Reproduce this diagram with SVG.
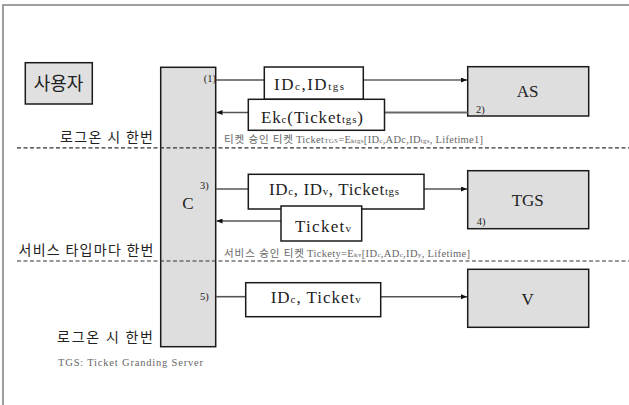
<svg xmlns="http://www.w3.org/2000/svg" width="629" height="405" viewBox="0 0 629 405">
<defs>
<style>
.frame{fill:none;stroke:#808080;stroke-width:1.5}
.node{fill:#dedede;stroke:#1a1a1a;stroke-width:1.5}
.msg{fill:#ffffff;stroke:#1a1a1a;stroke-width:1.5}
.ln{fill:none;stroke:#555;stroke-width:1.6}
.dash{fill:none;stroke:#333;stroke-width:1.2;stroke-dasharray:4 2.5}
text{fill:#222}
.big{font-size:17px}
.sub{font-size:11px}
.num{font-size:10.5px}
.note{font-size:10.5px;fill:#666}
.tiny{font-size:7px}
</style>
<marker id="arr" viewBox="0 0 6 5" refX="6" refY="2.5" markerWidth="6" markerHeight="5" markerUnits="userSpaceOnUse" orient="auto">
<path d="M0,0 L6,2.5 L0,5 z" fill="#111"/>
</marker>
</defs>
<rect width="629" height="405" fill="#ffffff"/>
<path class="frame" d="M3,405 V5 H629"/>

<g id="user">
<rect class="node" x="25.3" y="62.7" width="67" height="41.3" style="fill:#e0e0e0"/>
<text font-family="'Noto Sans CJK KR', sans-serif" x="58.5" y="90" font-size="18" text-anchor="middle">사용자</text>
</g>

<g id="C">
<rect class="node" x="160.7" y="67.3" width="55" height="279.4"/>
<text font-family="'Liberation Serif', 'DejaVu Serif', serif" class="big" x="188" y="209" text-anchor="middle">C</text>
</g>

<g id="AS">
<rect class="node" x="467.7" y="66.7" width="121" height="49.3"/>
<text font-family="'Liberation Serif', 'DejaVu Serif', serif" class="big" x="527.7" y="97" text-anchor="middle">AS</text>
<text font-family="'Liberation Serif', 'DejaVu Serif', serif" class="num" x="476" y="113">2)</text>
</g>

<g id="TGS">
<rect class="node" x="467.7" y="170.7" width="121" height="58"/>
<text font-family="'Liberation Serif', 'DejaVu Serif', serif" class="big" x="527.7" y="206" text-anchor="middle">TGS</text>
<text font-family="'Liberation Serif', 'DejaVu Serif', serif" class="num" x="476.7" y="225">4)</text>
</g>

<g id="V">
<rect class="node" x="467.7" y="269.3" width="121" height="58"/>
<text font-family="'Liberation Serif', 'DejaVu Serif', serif" class="big" x="527.7" y="305" text-anchor="middle">V</text>
</g>

<g id="connectors">
<path class="ln" d="M216,80 H264.3"/>
<path class="ln" d="M363.3,80 H467" style="stroke:#111;stroke-width:1.1" marker-end="url(#arr)"/>
<path class="ln" d="M467.7,112.5 H384.5" style="stroke:#666;stroke-width:2"/>
<path class="ln" d="M248.3,112.5 H216.5" marker-end="url(#arr)"/>
<path class="ln" d="M216,189 H248.3"/>
<path class="ln" d="M424,189 H467" marker-end="url(#arr)"/>
<path class="ln" d="M281,221 H216.5" marker-end="url(#arr)"/>
<path class="ln" d="M216,296.7 H245.7"/>
<path class="ln" d="M380.7,296.7 H467" marker-end="url(#arr)"/>
</g>

<g id="msg1">
<rect class="msg" x="264.3" y="67" width="99" height="32.3"/>
<text font-family="'Liberation Serif', 'DejaVu Serif', serif" class="big" x="274" y="90" textLength="70" lengthAdjust="spacing">ID<tspan class="sub">c</tspan>,ID<tspan class="sub">tgs</tspan></text>
<text font-family="'Liberation Serif', 'DejaVu Serif', serif" class="num" x="216" y="81.5" text-anchor="end">(1)</text>
</g>

<g id="msg2">
<rect class="msg" x="248.3" y="99.3" width="136.2" height="31"/>
<text font-family="'Liberation Serif', 'DejaVu Serif', serif" class="big" x="261" y="123" textLength="102" lengthAdjust="spacing">Ek<tspan class="sub">c</tspan>(Ticket<tspan class="sub">tgs</tspan>)</text>
</g>

<g id="msg3">
<rect class="msg" x="248.3" y="174.3" width="175.7" height="34.7"/>
<text font-family="'Liberation Serif', 'DejaVu Serif', serif" class="big" x="269" y="195" textLength="130" lengthAdjust="spacing">ID<tspan class="sub">c</tspan>, ID<tspan class="sub">v</tspan>, Ticket<tspan class="sub">tgs</tspan></text>
<text font-family="'Liberation Serif', 'DejaVu Serif', serif" class="num" x="200" y="189">3)</text>
</g>

<g id="msg4">
<rect class="msg" x="281" y="206" width="80.7" height="35"/>
<text font-family="'Liberation Serif', 'DejaVu Serif', serif" class="big" x="295" y="231.5" textLength="56" lengthAdjust="spacing">Ticket<tspan class="sub">v</tspan></text>
</g>

<g id="msg5">
<rect class="msg" x="245.7" y="282.7" width="135" height="34"/>
<text font-family="'Liberation Serif', 'DejaVu Serif', serif" class="big" x="270.7" y="303.3" textLength="90" lengthAdjust="spacing">ID<tspan class="sub">c</tspan>, Ticket<tspan class="sub">v</tspan></text>
<text font-family="'Liberation Serif', 'DejaVu Serif', serif" class="num" x="200" y="300">5)</text>
</g>

<g id="dividers">
<path class="dash" d="M17,147.8 H629"/>
<path class="dash" d="M17,261 H629"/>
</g>

<g id="labels">
<text font-family="'Noto Sans CJK KR', sans-serif" x="60" y="142" font-size="14" textLength="93" lengthAdjust="spacing">로그온 시 한번</text>
<text font-family="'Noto Sans CJK KR', sans-serif" x="18.5" y="255" font-size="14" textLength="135" lengthAdjust="spacing">서비스 타입마다 한번</text>
<text font-family="'Noto Sans CJK KR', sans-serif" x="57" y="342" font-size="14" textLength="96" lengthAdjust="spacing">로그온 시 한번</text>
<text font-family="'Noto Sans CJK KR', sans-serif" class="note" x="224" y="142.5" textLength="69" lengthAdjust="spacing">티켓 승인 티켓</text>
<text font-family="'Liberation Serif', 'DejaVu Serif', serif" class="note" x="296" y="142.5" textLength="187" lengthAdjust="spacing">Ticket<tspan class="tiny">TGS</tspan>=E<tspan class="tiny">ktgs</tspan>[ID<tspan class="tiny">c</tspan>,ADc,ID<tspan class="tiny">tgs</tspan>, Lifetime1]</text>
<text font-family="'Noto Sans CJK KR', sans-serif" class="note" x="224" y="256.5" textLength="80" lengthAdjust="spacing">서비스 승인 티켓</text>
<text font-family="'Liberation Serif', 'DejaVu Serif', serif" class="note" x="307" y="256.5" textLength="163" lengthAdjust="spacing">Tickety=E<tspan class="tiny">kv</tspan>[ID<tspan class="tiny">c</tspan>,AD<tspan class="tiny">c</tspan>,ID<tspan class="tiny">y</tspan>, Lifetime]</text>
<text font-family="'Liberation Serif', 'DejaVu Serif', serif" class="note" x="58" y="366" textLength="145" lengthAdjust="spacing">TGS: Ticket Granding Server</text>
</g>
</svg>
